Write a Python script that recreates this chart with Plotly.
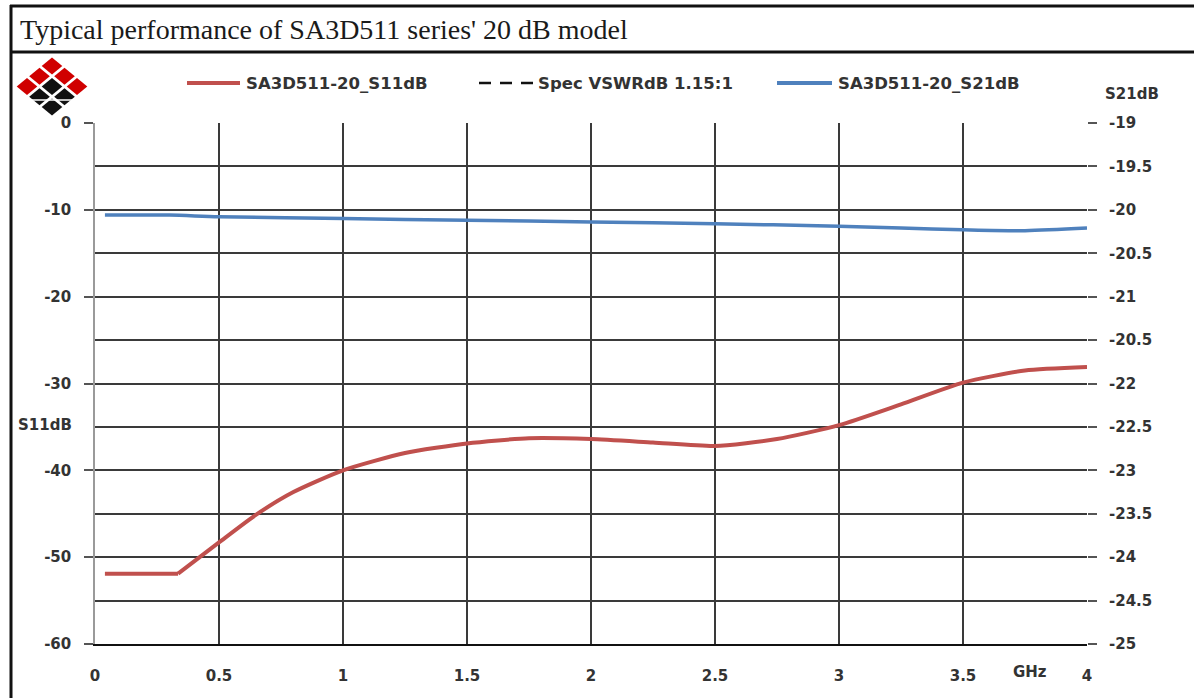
import plotly.graph_objects as go

# ---------------- data ----------------
freq_s11 = [0.04, 0.335, 0.5, 0.65, 0.8, 1.0, 1.25, 1.5, 1.75, 2.0, 2.25, 2.5, 2.75, 3.0, 3.25, 3.5, 3.75, 4.0]
s11_db = [-51.9, -51.9, -48.3, -45.1, -42.5, -40.0, -38.0, -36.9, -36.3, -36.4, -36.8, -37.2, -36.4, -34.8, -32.4, -29.9, -28.5, -28.1]

freq_s21 = [0.04, 0.3, 0.5, 1.0, 1.5, 2.0, 2.5, 3.0, 3.25, 3.5, 3.75, 4.0]
s21_db = [-20.06, -20.06, -20.08, -20.10, -20.12, -20.14, -20.16, -20.19, -20.21, -20.23, -20.24, -20.21]

x_ticks = [0, 0.5, 1, 1.5, 2, 2.5, 3, 3.5, 4]
x_tick_labels = ["0", "0.5", "1", "1.5", "2", "2.5", "3", "3.5", "4"]
left_ticks = [0, -10, -20, -30, -40, -50, -60]
left_tick_labels = ["0", "-10", "-20", "-30", "-40", "-50", "-60"]
left_minor = [-5, -15, -25, -35, -45, -55]
right_ticks = [-19, -19.5, -20, -20.5, -21, -21.5, -22, -22.5, -23, -23.5, -24, -24.5, -25]
right_tick_labels = ["-19", "-19.5", "-20", "-20.5", "-21", "-20.5", "-22", "-22.5", "-23", "-23.5", "-24", "-24.5", "-25"]

title_text = "Typical performance of SA3D511 series' 20 dB model"
legend_names = ["SA3D511-20_S11dB", "Spec VSWRdB 1.15:1", "SA3D511-20_S21dB"]

RED = "#C0504D"
BLUE = "#4F81BD"
GRID = "#3a3a3a"
TXT = "#333333"
SANS = "DejaVu Sans"

# ---------------- layout geometry ----------------
W, H = 1194, 698
L, R, T, B = 95, 107, 123, 54
pw, ph = W - L - R, H - T - B


def px(x):
    return (x - L) / pw


def py(y):
    return (H - B - y) / ph


fig = go.Figure()
# flat low-frequency part of S11 (straight), then the smooth remainder
fig.add_trace(go.Scatter(x=freq_s11[:2], y=s11_db[:2], mode="lines", name=legend_names[0],
                         line=dict(color=RED, width=4), showlegend=False, yaxis="y"))
fig.add_trace(go.Scatter(x=freq_s11[1:], y=s11_db[1:], mode="lines", name=legend_names[0],
                         line=dict(color=RED, width=4, shape="spline", smoothing=0.6),
                         showlegend=False, yaxis="y"))
fig.add_trace(go.Scatter(x=freq_s21, y=s21_db, mode="lines", name=legend_names[2],
                         line=dict(color=BLUE, width=3.5, shape="spline", smoothing=0.8),
                         showlegend=False, yaxis="y2"))

tickfont = dict(family=SANS, size=15, color=TXT, weight="bold")

fig.update_layout(
    width=W, height=H,
    margin=dict(l=L, r=R, t=T, b=B, autoexpand=False),
    paper_bgcolor="white", plot_bgcolor="white",
    showlegend=False,
    xaxis=dict(range=[0, 4], tickmode="array", tickvals=x_ticks, ticktext=x_tick_labels,
               showgrid=True, gridcolor=GRID, gridwidth=1.5, zeroline=False,
               showline=True, linecolor="#111111", linewidth=2, ticks="",
               ticklabelstandoff=17, tickfont=tickfont),
    yaxis=dict(range=[-60, 0], tickmode="array", tickvals=left_ticks, ticktext=left_tick_labels,
               showgrid=True, gridcolor=GRID, gridwidth=1.5, zeroline=False,
               showline=True, linecolor="#9a9a9a", linewidth=1.5,
               ticks="outside", ticklen=9, tickwidth=1.5, tickcolor="#555555",
               ticklabelstandoff=10, tickfont=tickfont,
               minor=dict(tickmode="array", tickvals=left_minor, showgrid=True,
                          gridcolor=GRID, gridwidth=1.5, ticks="")),
    yaxis2=dict(range=[-25, -19], overlaying="y", side="right", anchor="x",
                tickmode="array", tickvals=right_ticks, ticktext=right_tick_labels,
                showgrid=False, zeroline=False, showline=False,
                ticks="outside", ticklen=9, tickwidth=1.5, tickcolor="#555555",
                ticklabelstandoff=9, tickfont=tickfont),
)

shapes = []
annotations = []

# outer frame and title box
shapes.append(dict(type="line", xref="paper", yref="paper", x0=px(10), x1=px(W), y0=py(6), y1=py(6),
                   line=dict(color="#111111", width=3)))
shapes.append(dict(type="line", xref="paper", yref="paper", x0=px(10), x1=px(W), y0=py(52), y1=py(52),
                   line=dict(color="#111111", width=3)))
shapes.append(dict(type="line", xref="paper", yref="paper", x0=px(11), x1=px(11), y0=py(5), y1=py(H),
                   line=dict(color="#111111", width=3)))

annotations.append(dict(text=title_text, xref="paper", yref="paper", x=px(18), y=py(29),
                        xanchor="left", yanchor="middle", showarrow=False,
                        font=dict(family="Liberation Serif", size=28, color="#1a1a1a")))

# logo: 3x3 grid of diamonds
logo_cx, logo_cy, sx, sy, hw, hh = 52, 66, 12.5, 10.25, 10.3, 8.4
for i in range(3):
    for j in range(3):
        cx = logo_cx + (i - j) * sx
        cy = logo_cy + (i + j) * sy
        s = i + j
        col = "#D00000" if (s < 2 or (s == 2 and i != 1)) else "#111111"
        path = "M {} {} L {} {} L {} {} L {} {} Z".format(
            px(cx), py(cy - hh), px(cx + hw), py(cy), px(cx), py(cy + hh), px(cx - hw), py(cy))
        shapes.append(dict(type="path", xref="paper", yref="paper", path=path,
                           fillcolor=col, line=dict(width=0)))
shapes.append(dict(type="line", xref="paper", yref="paper", x0=px(28), x1=px(80), y0=py(100), y1=py(100),
                   line=dict(color="white", width=1.5)))

# legend (drawn manually)
leg_y = 83
leg_font = dict(family=SANS, size=16.5, color=TXT, weight="bold")
shapes.append(dict(type="line", xref="paper", yref="paper", x0=px(187), x1=px(240), y0=py(leg_y), y1=py(leg_y),
                   line=dict(color=RED, width=4)))
annotations.append(dict(text=legend_names[0], xref="paper", yref="paper", x=px(244), y=py(leg_y),
                        xanchor="left", yanchor="middle", showarrow=False, font=leg_font))
shapes.append(dict(type="line", xref="paper", yref="paper", x0=px(479), x1=px(533), y0=py(leg_y), y1=py(leg_y),
                   line=dict(color="#111111", width=2.5, dash="12px,9px")))
annotations.append(dict(text=legend_names[1], xref="paper", yref="paper", x=px(536), y=py(leg_y),
                        xanchor="left", yanchor="middle", showarrow=False, font=leg_font))
shapes.append(dict(type="line", xref="paper", yref="paper", x0=px(777), x1=px(832), y0=py(leg_y), y1=py(leg_y),
                   line=dict(color=BLUE, width=4)))
annotations.append(dict(text=legend_names[2], xref="paper", yref="paper", x=px(836), y=py(leg_y),
                        xanchor="left", yanchor="middle", showarrow=False, font=leg_font))

# axis titles
annotations.append(dict(text="S11dB", xref="paper", yref="paper", x=px(45), y=py(425),
                        xanchor="center", yanchor="middle", showarrow=False, font=tickfont))
annotations.append(dict(text="S21dB", xref="paper", yref="paper", x=px(1132), y=py(94),
                        xanchor="center", yanchor="middle", showarrow=False, font=tickfont))
annotations.append(dict(text="GHz", xref="paper", yref="paper", x=px(1030), y=py(672),
                        xanchor="center", yanchor="middle", showarrow=False, font=tickfont))

fig.update_layout(shapes=shapes, annotations=annotations)
fig.write_html("out.html", config={"displayModeBar": False},
               post_script="document.body.style.margin='0px';")
